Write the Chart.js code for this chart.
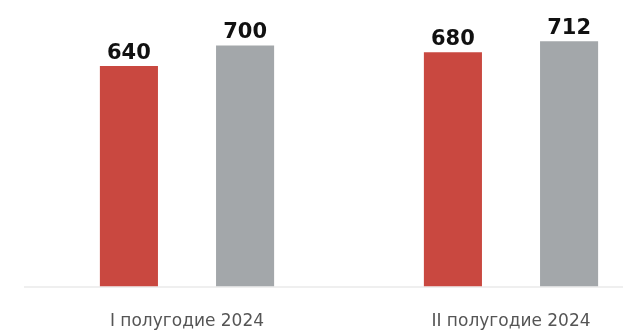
<!DOCTYPE html>
<html>
<head>
<meta charset="utf-8">
<script src="https://cdn.jsdelivr.net/npm/chart.js@4/dist/chart.umd.min.js"></script>
<style>
  html, body { margin: 0; padding: 0; background: #fff; overflow: hidden; }
  #wrap { position: relative; width: 673px; height: 357px; }
</style>
</head>
<body>
<div id="wrap"><canvas id="c"></canvas></div>
<script>
// Half-year periods and the two compared series
const periods = ['I полугодие 2024', 'II полугодие 2024'];
const seriesRed = [640, 680];
const seriesGray = [700, 712];

// Writes each bar's value just above its top
const valueLabels = {
  id: 'valueLabels',
  afterDatasetsDraw(chart) {
    const ctx = chart.ctx;
    ctx.save();
    ctx.font = 'bold 21px "DejaVu Sans"';
    ctx.fillStyle = '#111111';
    ctx.textAlign = 'center';
    ctx.textBaseline = 'alphabetic';
    chart.data.datasets.forEach((ds, i) => {
      chart.getDatasetMeta(i).data.forEach((bar, j) => {
        ctx.fillText(String(ds.data[j]), bar.x, bar.y - 7);
      });
    });
    ctx.restore();
  }
};

new Chart(document.getElementById('c'), {
  type: 'bar',
  data: {
    labels: periods,
    datasets: [
      { data: seriesRed, backgroundColor: '#c94840' },
      { data: seriesGray, backgroundColor: '#a3a7aa' }
    ]
  },
  options: {
    responsive: true,
    maintainAspectRatio: false,
    animation: false,
    layout: { padding: { left: 25, right: 0, top: 11, bottom: 0 } },
    datasets: { bar: { categoryPercentage: 0.717, barPercentage: 0.5 } },
    plugins: { legend: { display: false }, tooltip: { enabled: false } },
    scales: {
      x: {
        grid: { display: false, drawTicks: false },
        border: { display: true, color: '#efefef', width: 2 },
        ticks: {
          color: '#555555',
          padding: 25,
          font: { family: '"DejaVu Sans"', size: 17 }
        }
      },
      y: {
        display: false,
        min: 0,
        max: 800
      }
    }
  },
  plugins: [valueLabels]
});
</script>
</body>
</html>
